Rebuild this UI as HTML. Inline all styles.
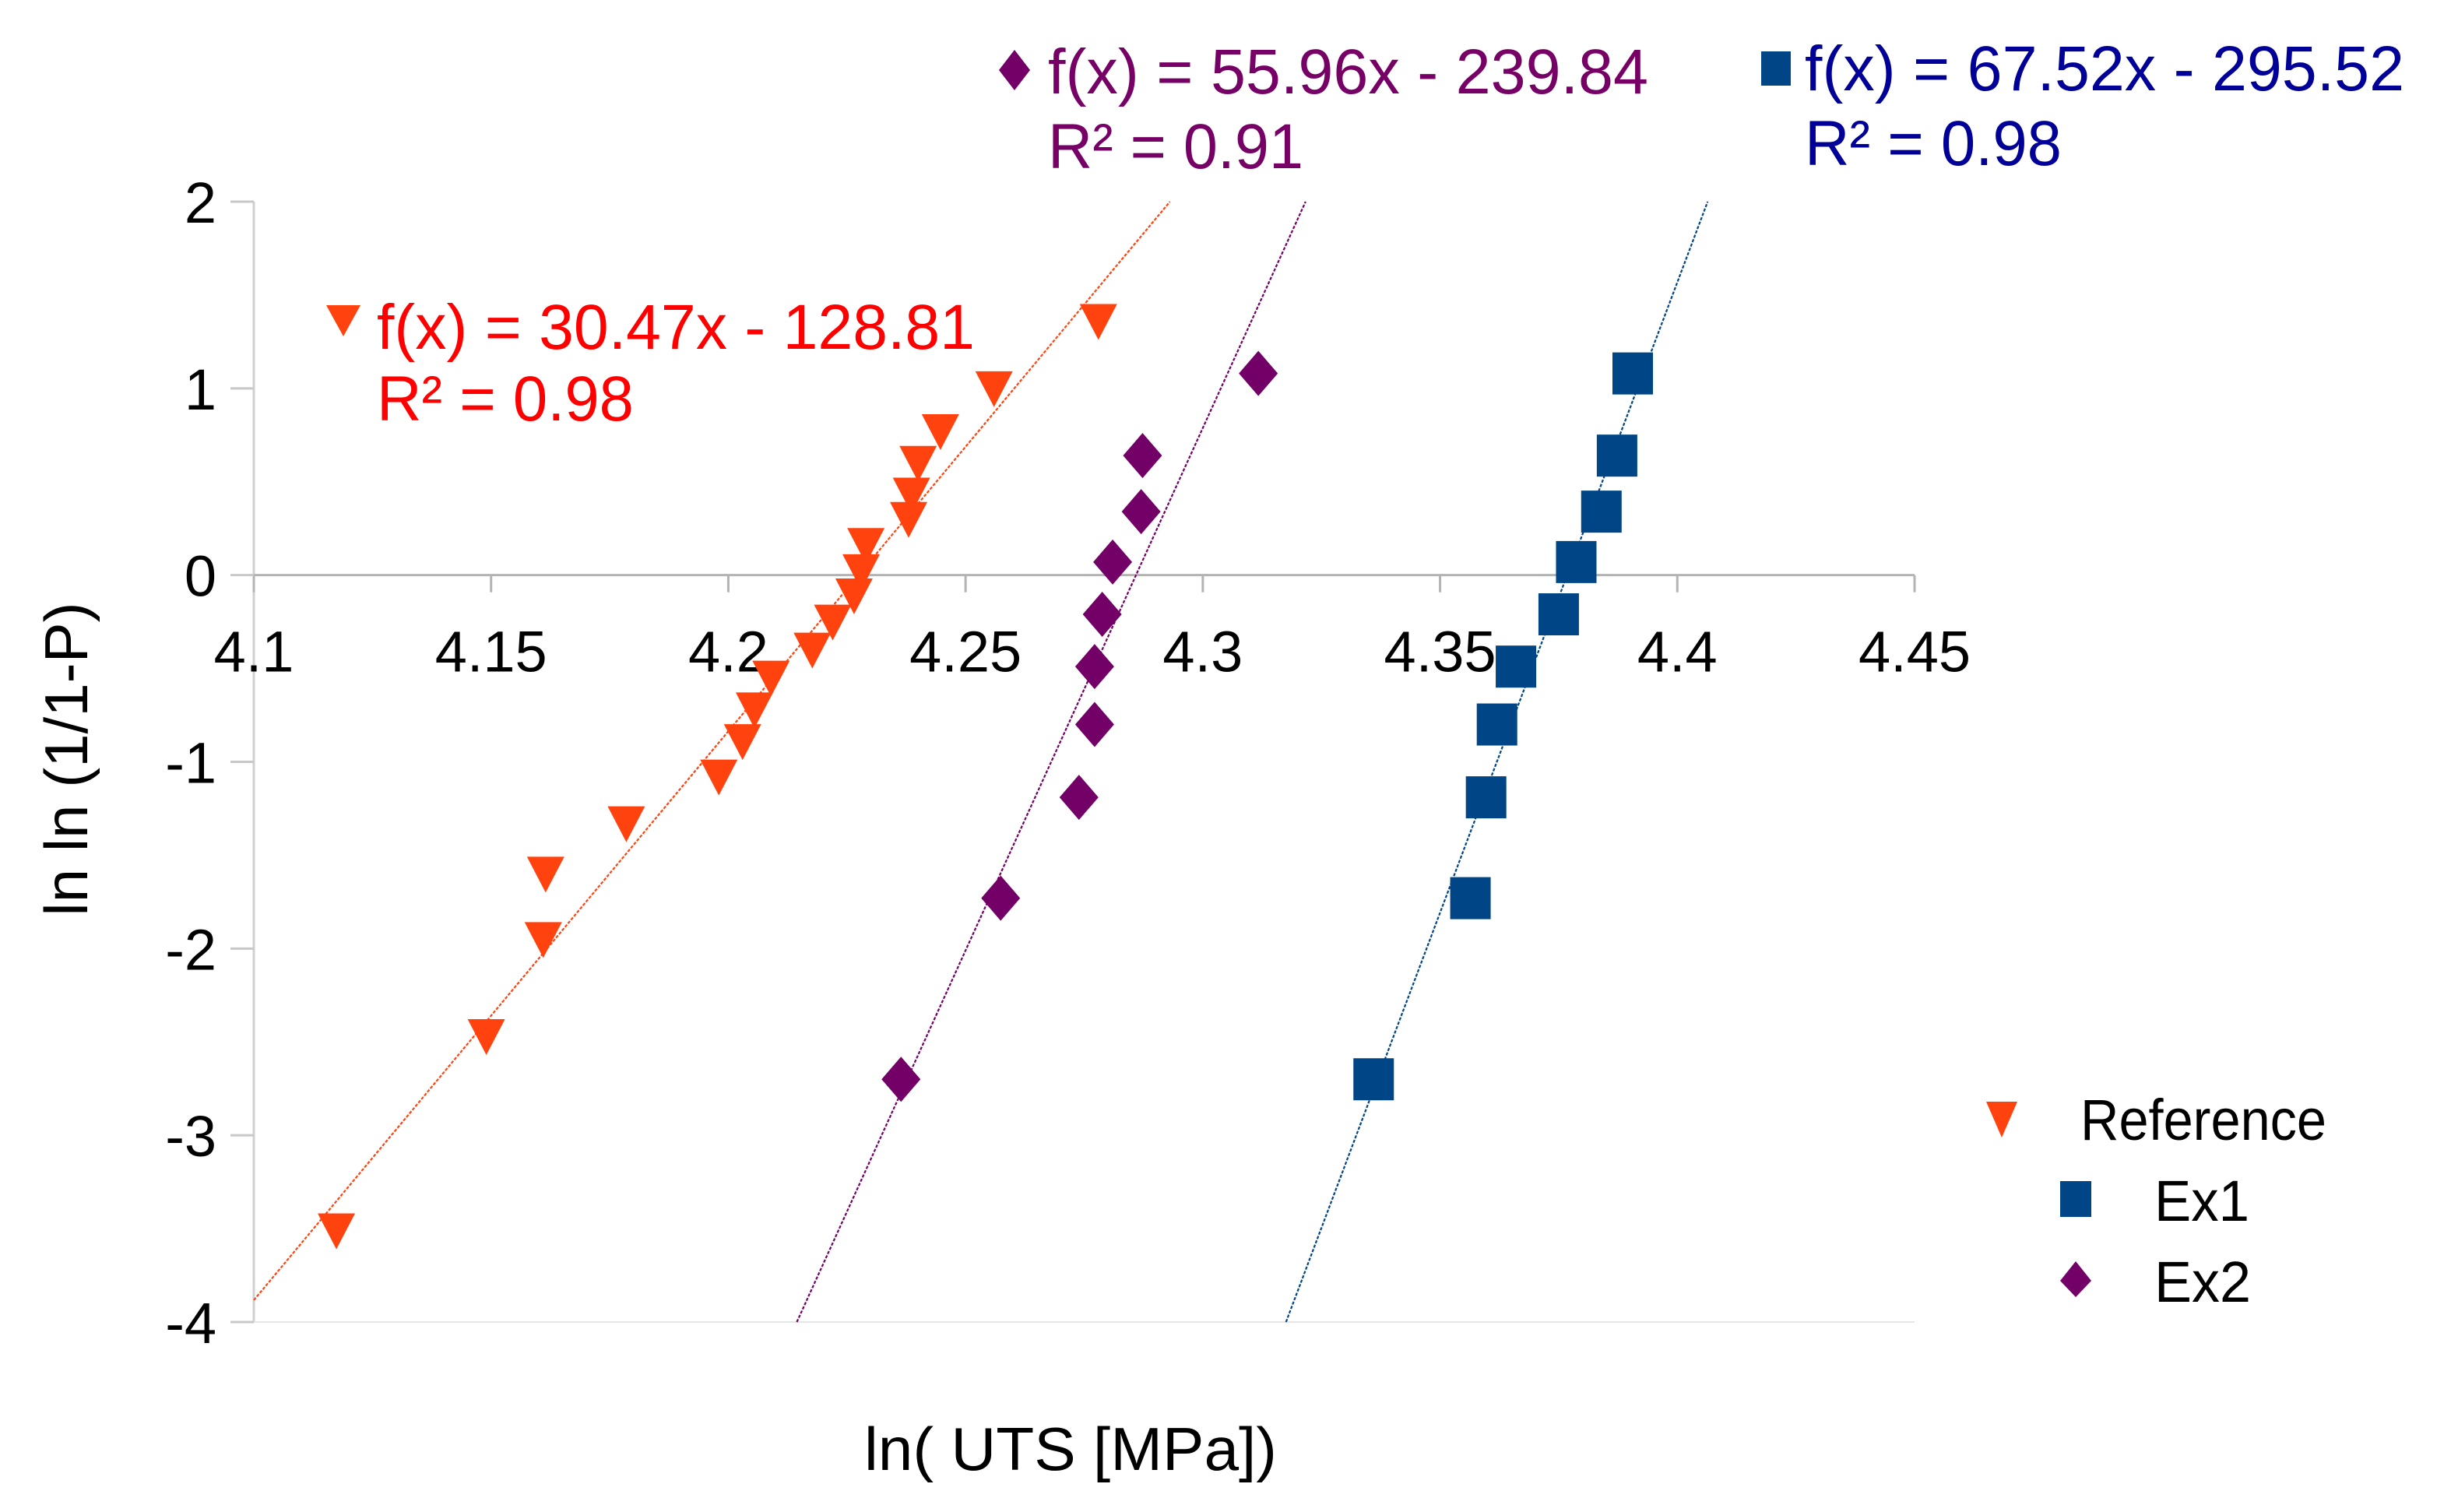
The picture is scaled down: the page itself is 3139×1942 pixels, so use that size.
<!DOCTYPE html>
<html><head><meta charset="utf-8"><style>
html,body{margin:0;padding:0;background:#fff;}
svg{display:block;font-family:"Liberation Sans",Arial,sans-serif;}
</style></head><body>
<svg id="chart" width="3139" height="1942" viewBox="0 0 3139 1942" xmlns="http://www.w3.org/2000/svg">
<g id="axes"></g>
<g id="lines"></g>
<g id="marks"></g>
<g id="labels">
  <text x="1110" y="1888" font-size="78" fill="#000" textLength="530" lengthAdjust="spacingAndGlyphs">ln( UTS [MPa])</text>
  <text transform="translate(112,975) rotate(-90)" text-anchor="middle" font-size="78" fill="#000">ln ln (1/1-P)</text>
  <text x="484" y="448" font-size="82" fill="#ff0000" textLength="768" lengthAdjust="spacingAndGlyphs">f(x) = 30.47x - 128.81</text>
  <text x="484" y="540" font-size="82" fill="#ff0000" textLength="330" lengthAdjust="spacingAndGlyphs">R² = 0.98</text>
  <text x="1346" y="120" font-size="82" fill="#770066" textLength="771" lengthAdjust="spacingAndGlyphs">f(x) = 55.96x - 239.84</text>
  <text x="1346" y="216" font-size="82" fill="#770066" textLength="328" lengthAdjust="spacingAndGlyphs">R² = 0.91</text>
  <text x="2318" y="116" font-size="82" fill="#000099" textLength="770" lengthAdjust="spacingAndGlyphs">f(x) = 67.52x - 295.52</text>
  <text x="2318" y="212" font-size="82" fill="#000099" textLength="330" lengthAdjust="spacingAndGlyphs">R² = 0.98</text>
  <polygon points="419,392 463,392 441,432" fill="#ff420e"/>
  <polygon points="1303,64 1323,90 1303,116 1283,90" fill="#730066"/>
  <rect x="2262" y="66" width="38" height="44" fill="#004586"/>
</g>
<g id="legend">
  <g>
    <polygon points="2551,1415 2591,1415 2571,1461" fill="#ff420e"/>
    <text x="2672" y="1464" font-size="74" fill="#000" textLength="316" lengthAdjust="spacingAndGlyphs">Reference</text>
  </g>
  <g>
    <rect x="2646" y="1517" width="40" height="46" fill="#004586"/>
    <text x="2767" y="1568" font-size="74" fill="#000" textLength="122" lengthAdjust="spacingAndGlyphs">Ex1</text>
  </g>
  <g>
    <polygon points="2666,1620 2686,1645 2666,1666 2646,1645" fill="#730066"/>
    <text x="2767" y="1672" font-size="74" fill="#000" textLength="124" lengthAdjust="spacingAndGlyphs">Ex2</text>
  </g>
</g>
</svg>
<script>
const xTicks = [4.1, 4.15, 4.2, 4.25, 4.3, 4.35, 4.4, 4.45];
const xTickLabels = ["4.1","4.15","4.2","4.25","4.3","4.35","4.4","4.45"];
const yTicks = [2, 1, 0, -1, -2, -3, -4];
const yTickLabels = ["2","1","0","-1","-2","-3","-4"];
const refX = [4.1174,4.149,4.161,4.1615,4.1785,4.198,4.203,4.2055,4.209,4.2177,4.222,4.2265,4.228,4.229,4.238,4.2386,4.240,4.2447,4.256,4.278];
const refY = [-3.51,-2.47,-1.95,-1.60,-1.33,-1.08,-0.89,-0.72,-0.55,-0.40,-0.25,-0.11,0.02,0.16,0.30,0.43,0.60,0.77,1.00,1.36];
const ex1X = [4.336,4.3564,4.3597,4.362,4.366,4.375,4.3787,4.384,4.3873,4.3906];
const ex1Y = [-2.70,-1.73,-1.19,-0.80,-0.49,-0.21,0.07,0.34,0.64,1.08];
const ex2X = [4.2364,4.2574,4.2739,4.2772,4.2772,4.2788,4.281,4.287,4.2873,4.3117];
const ex2Y = [-2.70,-1.73,-1.19,-0.80,-0.49,-0.21,0.07,0.34,0.64,1.08];
const refFit = [30.47, -128.81];
const ex1Fit = [67.52, -295.52];
const ex2Fit = [55.96, -239.84];

const NS = "http://www.w3.org/2000/svg";
const X0 = 326, X1 = 2459, Y0 = 259, Y1 = 1698;
const xMin = 4.1, xMax = 4.45, yMin = -4, yMax = 2;
function sx(v){ return X0 + (v - xMin) / (xMax - xMin) * (X1 - X0); }
function sy(v){ return Y1 - (v - yMin) / (yMax - yMin) * (Y1 - Y0); }
function mk(tag, attrs, parent){ const e = document.createElementNS(NS, tag); for (const k in attrs) e.setAttribute(k, attrs[k]); parent.appendChild(e); return e; }

const axes = document.getElementById('axes');
let yl = mk('line', {x1:X0, y1:Y0, x2:X0, y2:Y1, stroke:'#d0d0d0', 'stroke-width':3}, axes);


let bl = mk('line', {x1:X0, y1:Y1, x2:X1, y2:Y1, stroke:'#e6e6e6', 'stroke-width':2}, axes);


let xl = mk('line', {x1:X0, y1:sy(0), x2:X1, y2:sy(0), stroke:'#b3b3b3', 'stroke-width':3}, axes);


xTicks.forEach((t, i) => {
  const tk = mk('line', {x1:sx(t), y1:sy(0), x2:sx(t), y2:sy(0)+22, stroke:'#b3b3b3', 'stroke-width':3}, axes);
  
  
  const tx = mk('text', {x:sx(t), y:sy(0)+124, 'text-anchor':'middle', 'font-size':74, fill:'#000'}, axes);
  tx.textContent = xTickLabels[i];
  
  
});
yTicks.forEach((t, i) => {
  const tk = mk('line', {x1:X0-30, y1:sy(t), x2:X0, y2:sy(t), stroke:'#c8c8c8', 'stroke-width':3}, axes);
  
  
  const tx = mk('text', {x:278, y:sy(t)+27, 'text-anchor':'end', 'font-size':74, fill:'#000'}, axes);
  tx.textContent = yTickLabels[i];
  
  
});

const lines = document.getElementById('lines');
function trend(fit, color, name){
  const m = fit[0], b = fit[1];
  let xa = Math.max(xMin, (yMin - b) / m), xb = Math.min(xMax, (yMax - b) / m);
  const l = mk('line', {x1:sx(xa), y1:sy(m*xa+b), x2:sx(xb), y2:sy(m*xb+b), stroke:color, 'stroke-width':2.2, 'stroke-dasharray':'4 2'}, lines);
  
  
}
trend(refFit, '#ff420e', 'reference-trend-line');
trend(ex2Fit, '#730066', 'ex2-trend-line');
trend(ex1Fit, '#004586', 'ex1-trend-line');

const marks = document.getElementById('marks');
refX.forEach((v, i) => {
  const cx = sx(v), cy = sy(refY[i]);
  const p = mk('polygon', {points:`${cx-24},${cy-22} ${cx+24},${cy-22} ${cx},${cy+24}`, fill:'#ff420e'}, marks);
  
  
});
ex2X.forEach((v, i) => {
  const cx = sx(v), cy = sy(ex2Y[i]);
  const p = mk('polygon', {points:`${cx},${cy-29} ${cx+25},${cy} ${cx},${cy+29} ${cx-25},${cy}`, fill:'#730066'}, marks);
  
  
});
ex1X.forEach((v, i) => {
  const cx = sx(v), cy = sy(ex1Y[i]);
  const p = mk('rect', {x:cx-26, y:cy-27, width:52, height:54, fill:'#004586'}, marks);
  
  
});
</script>
</body></html>
